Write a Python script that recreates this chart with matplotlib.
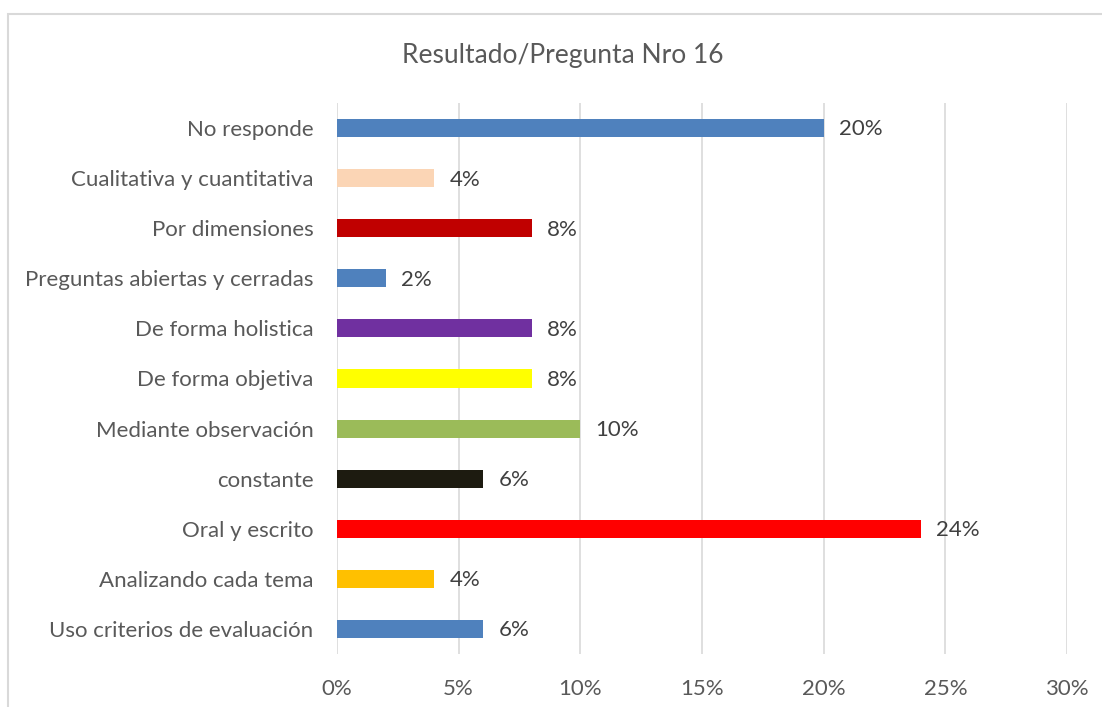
import matplotlib.pyplot as plt
from matplotlib.patches import Rectangle
from matplotlib.ticker import FuncFormatter

categorias = ['No responde', 'Cualitativa y cuantitativa', 'Por dimensiones',
              'Preguntas abiertas y cerradas', 'De forma holistica', 'De forma objetiva',
              'Mediante observación', 'constante', 'Oral y escrito',
              'Analizando cada tema', 'Uso criterios de evaluación']
valores = [20, 4, 8, 2, 8, 8, 10, 6, 24, 4, 6]
colores = ['#4F81BD', '#FBD5B5', '#C00000', '#4F81BD', '#7030A0', '#FFFF00',
           '#9BBB59', '#1D1B10', '#FF0000', '#FFC000', '#4F81BD']
ticks = [0, 5, 10, 15, 20, 25, 30]

plt.rcParams['font.family'] = ['Lato', 'DejaVu Sans']
texto = '#595959'

fig = plt.figure(figsize=(11.02, 7.07), dpi=100)
fig.patches.append(Rectangle((8 / 1102, -0.1), 1.2, 1 - 14 / 707 + 0.1,
                             transform=fig.transFigure, fill=False,
                             edgecolor='#D9D9D9', linewidth=1.5))

ax = fig.add_axes([337 / 1102, 53 / 707, 730 / 1102, 551 / 707])
y = list(range(len(categorias)))
ax.barh(y, valores, height=0.36, color=colores, zorder=3)
ax.set_ylim(len(categorias) - 0.5, -0.5)
ax.set_xlim(0, 30)
ax.set_yticks(y)
ax.set_yticklabels(categorias, fontsize=16, color=texto)
ax.set_xticks(ticks)
ax.xaxis.set_major_formatter(FuncFormatter(lambda v, p: f'{v:.0f}%'))
ax.tick_params(axis='x', labelsize=16, labelcolor=texto, length=0, pad=18)
ax.tick_params(axis='y', length=0, pad=17)
ax.grid(axis='x', color='#D9D9D9', linewidth=1.2, zorder=0)
for s in ax.spines.values():
    s.set_visible(False)

for yi, v in zip(y, valores):
    ax.annotate(f'{v}%', (v, yi), xytext=(11, -1), textcoords='offset points',
                va='center', ha='left', fontsize=16, color='#404040')

fig.text(563 / 1102, 1 - 55 / 707, 'Resultado/Pregunta Nro 16', ha='center',
         va='center', fontsize=19, color=texto)

fig.savefig('out.png', dpi=100)
